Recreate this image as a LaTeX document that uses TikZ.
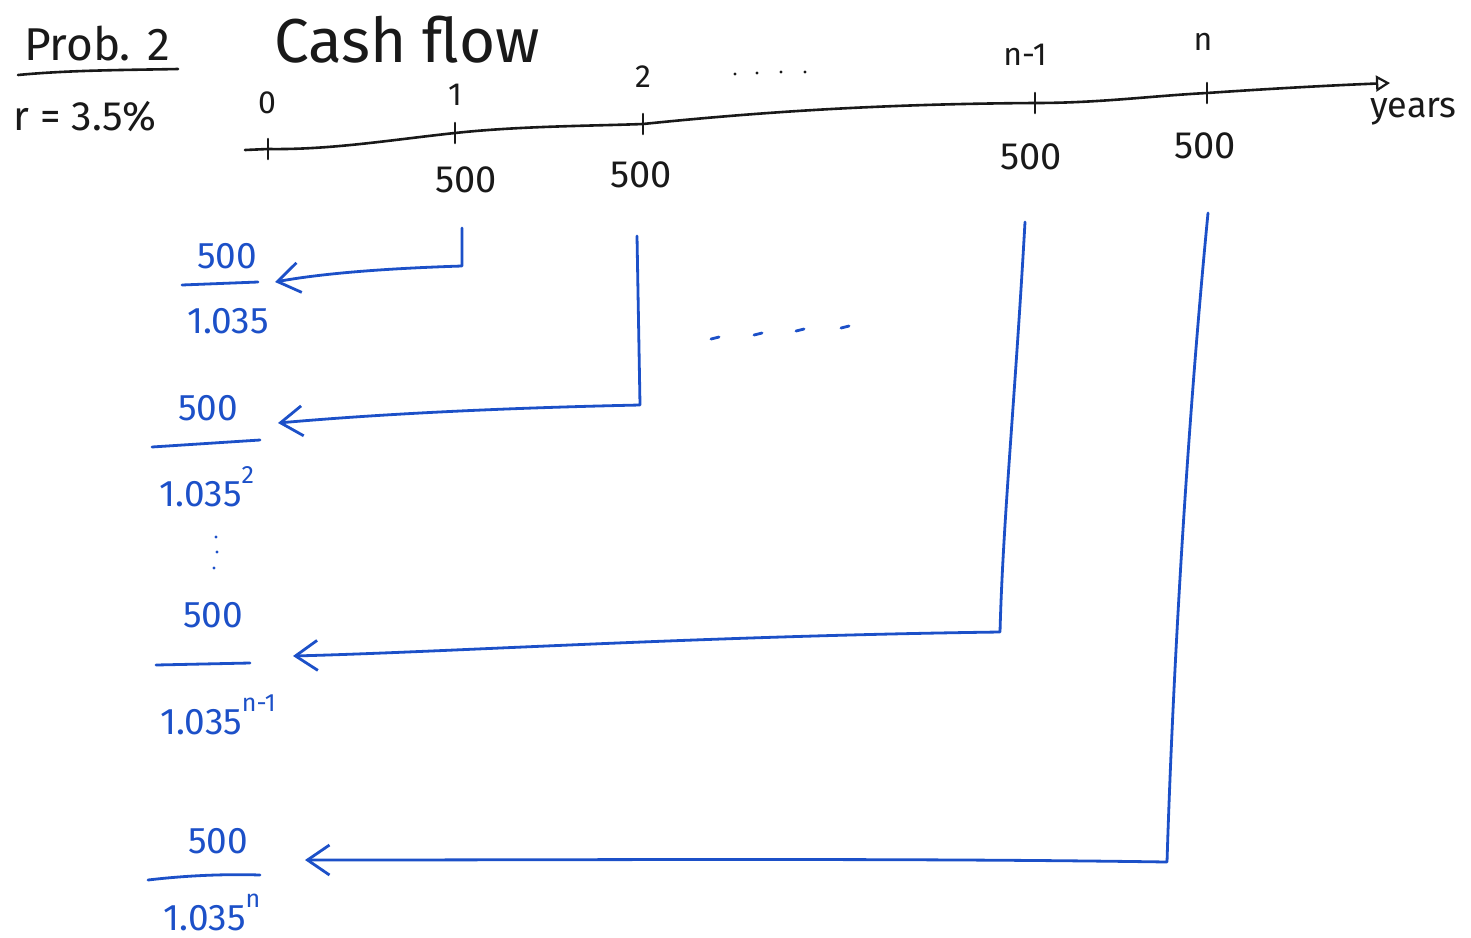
\documentclass[tikz,border=0pt]{standalone}
\usepackage{fontspec}
\setmainfont{Fira Sans}
\usetikzlibrary{arrows.meta}
\definecolor{penblue}{RGB}{28,80,200}
\definecolor{penblack}{RGB}{25,25,25}
% small raised exponent
\newcommand\pw[1]{\raisebox{0.62em}{\fontsize{25}{25}\selectfont #1}}
\begin{document}
\begin{tikzpicture}[x=1pt,y=-1pt,
  ink/.style={draw=penblack,line width=2.6pt,line cap=round,line join=round},
  blueink/.style={draw=penblue,line width=2.8pt,line cap=round,line join=round},
  lbl/.style={text=penblack,inner sep=0pt,font=\fontsize{32}{38}\selectfont},
  cash/.style={text=penblack,inner sep=0pt,font=\fontsize{38}{44}\selectfont},
  bluelbl/.style={text=penblue,inner sep=0pt,font=\fontsize{37}{42}\selectfont},
  back/.style={-{Straight Barb[length=22pt,width=30pt,line width=2.8pt]}},
  axisarrow/.style={-{Triangle[open,length=14pt,width=16pt,line width=2.2pt]}}
]
\useasboundingbox[fill=white] (0,0) rectangle (1471,937);

% heading
\node[text=penblack,inner sep=0pt,font=\fontsize{46}{50}\selectfont] (prob) at (97,44) {Prob. 2};
\draw[ink] (18,75) .. controls (70,70) and (130,70) .. (178,69);
\node[text=penblack,inner sep=0pt,font=\fontsize{41}{45}\selectfont] (rate) at (85,117) {r = 3.5\%};
\node[text=penblack,inner sep=0pt,font=\fontsize{62}{66}\selectfont] (title) at (407,40) {Cash flow};

% time axis
\coordinate (a0) at (245,150);
\coordinate (aend) at (1390,83);
\coordinate (k0) at (268,149);
\coordinate (k1) at (455,133);
\coordinate (k2) at (643,124);
\coordinate (k3) at (1035,103);
\coordinate (k4) at (1207,93);
\draw[ink,axisarrow] (a0) -- (k0) .. controls (330,150) and (390,140) .. (k1)
  .. controls (520,126) and (590,126) .. (k2)
  .. controls (760,112) and (880,104) .. (k3)
  .. controls (1100,103) and (1150,96) .. (k4)
  .. controls (1280,88) and (1340,85) .. (aend);
\foreach \k in {k0,k1,k2,k3,k4}
  \draw[ink] ([yshift=-10pt]\k) -- ([yshift=10pt]\k);

% period labels
\node[lbl] (p0) at (267,103) {0};
\node[lbl] (p1) at (455,95) {1};
\node[lbl] (p2) at (643,77) {2};
\node[lbl] (p3) at (1025,55) {n-1};
\node[lbl] (p4) at (1203,42) {n};
\node[lbl,anchor=west,font=\fontsize{36}{40}\selectfont] (yrs) at (1370,112) {years};
\foreach \x/\y in {735/74,757/73,781/72,805/72}
  \fill[penblack] (\x,\y) circle (1.6pt);

% payments
\node[cash] (c1) at (466,180) {500};
\node[cash] (c2) at (641,175) {500};
\node[cash] (c3) at (1031,157) {500};
\node[cash] (c4) at (1205,146) {500};

% discounted values
\node[bluelbl] (n1) at (227,256) {500};
\node[bluelbl] (d1) at (228,321) {1.035};
\draw[blueink] (182,285) -- (258,282);
\node[bluelbl] (n2) at (208,408) {500};
\node[bluelbl] (d2) at (207,487) {1.035\pw{2}};
\draw[blueink] (152,447) -- (260,440);
\node[bluelbl] (n3) at (213,615) {500};
\node[bluelbl] (d3) at (218,715) {1.035\pw{n-1}};
\draw[blueink] (156,665) -- (250,663);
\node[bluelbl] (n4) at (218,841) {500};
\node[bluelbl] (d4) at (212,912) {1.035\pw{n}};
\draw[blueink] (148,880) .. controls (190,875) and (230,874) .. (260,875);

\foreach \x/\y in {216/537,217/552,214/568}
  \fill[penblue] (\x,\y) circle (1.6pt);
\foreach \x/\y in {715/338,758/334,800/330,845/327}
  \draw[blueink] (\x-4,\y+1) -- (\x+4,\y-1);

% transfers to time 0
\coordinate (s1) at (462,228);  \coordinate (b1) at (462,266); \coordinate (t1) at (275,282);
\coordinate (s2) at (637,236);  \coordinate (b2) at (640,405); \coordinate (t2) at (278,423);
\coordinate (s3) at (1025,222); \coordinate (b3) at (1000,632); \coordinate (t3) at (293,656);
\coordinate (s4) at (1208,213); \coordinate (b4) at (1167,862); \coordinate (t4) at (305,860);
\draw[blueink,back] (s1) -- (b1) .. controls (400,268) and (330,272) .. (t1);
\draw[blueink,back] (s2) -- (b2) .. controls (500,408) and (380,414) .. (t2);
\draw[blueink,back] (s3) .. controls (1015,400) and (1003,520) .. (b3)
  .. controls (700,636) and (450,652) .. (t3);
\draw[blueink,back] (s4) .. controls (1185,450) and (1172,700) .. (b4)
  .. controls (900,858) and (600,860) .. (t4);
\end{tikzpicture}
\end{document}
